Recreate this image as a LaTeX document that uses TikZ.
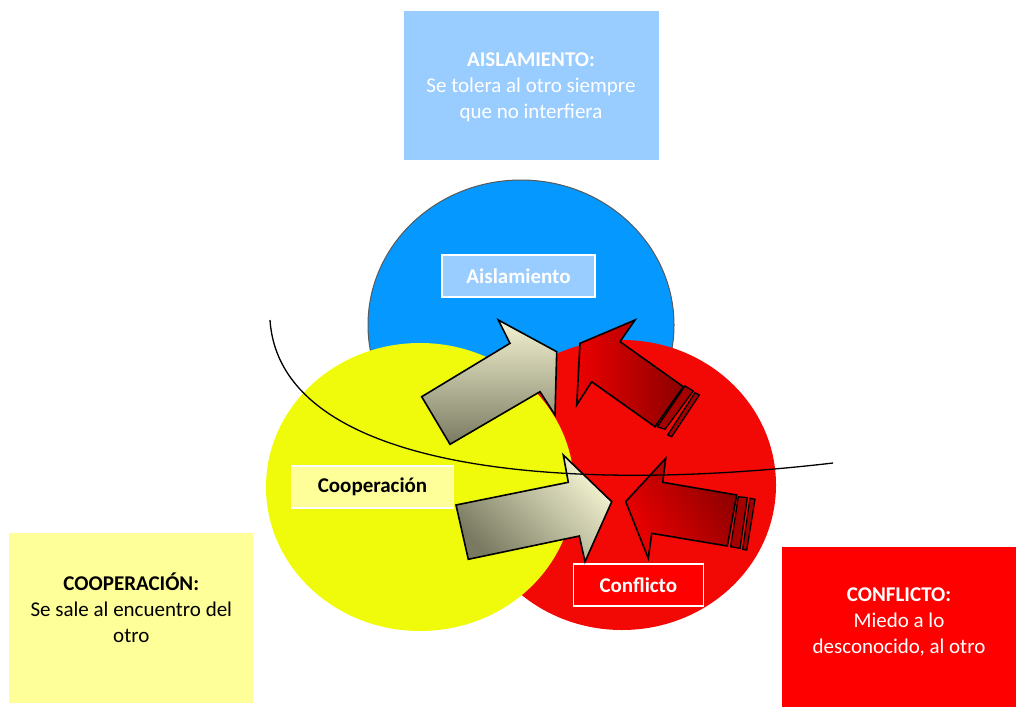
\documentclass[tikz,border=0pt]{standalone}
\usepackage{fontspec}
\setmainfont{Carlito}
\usepackage{xcolor}
\usetikzlibrary{shapes, positioning}

\definecolor{paleblue}{HTML}{99CCFF}
\definecolor{paleyellow}{HTML}{FFFF99}
\definecolor{purered}{HTML}{FF0000}
\definecolor{circblue}{RGB}{5,153,255}
\definecolor{circyellow}{RGB}{240,251,12}
\definecolor{circred}{RGB}{242,8,5}
\definecolor{khakilight}{RGB}{244,244,210}
\definecolor{khakidark}{RGB}{122,122,98}
\definecolor{redlight}{RGB}{236,0,0}
\definecolor{reddark}{RGB}{140,0,0}
\definecolor{stripered}{RGB}{165,0,0}

\begin{document}
\begin{tikzpicture}[x=1pt, y=-1pt,
        font=\fontsize{21}{26}\selectfont,
        infobox/.style={rectangle, inner sep=0pt},
        infotext/.style={align=center},
        tag/.style={rectangle, draw=white, line width=1.5pt, inner sep=0pt,
            minimum height=42pt, font=\fontsize{21}{26}\selectfont\bfseries},
        pusharrow/.style={draw=black, line width=1.6pt, line join=miter},
        stripe/.style={draw=black, line width=1.3pt, fill=stripered}]

        \useasboundingbox (0,0) rectangle (1016,707);

        % the three circles
        \filldraw[fill=circblue, draw=gray!70!black, line width=1pt] (521,325) ellipse [x radius=153pt, y radius=145pt];
        \fill[circred] (622,485) ellipse [x radius=154pt, y radius=145pt];
        \fill[circyellow] (420,487) ellipse [x radius=154pt, y radius=144pt];

        % tags inside the circles
        \node[tag, fill=paleblue, text=white, minimum width=153pt] (isoTag) at (518.5,276) {Aislamiento};
        \node[tag, fill=paleyellow, text=black, minimum width=162pt] (coopTag) at (372.5,487) {Cooperación};
        \node[tag, fill=purered, text=white, minimum width=130pt] (confTag) at (638.3,585) {Conflicto};

        % khaki arrows
        \draw[pusharrow, top color=khakilight, bottom color=khakidark]
            (421.7,396.7) -- (510,343.3) -- (498.3,320) -- (556.7,351.7)
            -- (555,415) -- (540,391.7) -- (450,444.3) -- cycle;
        \draw[pusharrow, top color=khakilight, bottom color=khakidark, shading angle=-45]
            (456,505) -- (568.3,482.3) -- (563.3,455) -- (611.7,501.7)
            -- (585,561.7) -- (579.3,536) -- (468.3,559.3) -- cycle;

        % red arrows
        \draw[pusharrow, top color=redlight, bottom color=reddark, shading angle=90]
            (580,343.3) -- (635,320) -- (620,341.7) -- (683.3,386.7)
            -- (655,426.7) -- (591.7,381.7) -- (576.7,405) -- cycle;
        \draw[stripe] (685,386) -- (693.3,391) -- (665,429.3) -- (657.3,426.7) -- cycle
            (695,392.7) -- (699.3,395) -- (671.7,436.7) -- (667.7,435) -- cycle;
        \draw[pusharrow, top color=redlight, bottom color=reddark, shading angle=120]
            (625.7,501.7) -- (665.7,458.3) -- (662.7,482.3) -- (736.7,495)
            -- (727.3,546) -- (651.7,533.3) -- (648.3,558.3) -- cycle;
        \draw[stripe] (738.3,496.7) -- (747.3,497.7) -- (740,548.3) -- (730.7,546.7) -- cycle
            (750,498.3) -- (755,499.3) -- (746.7,550) -- (742.7,549.3) -- cycle;

        % the boundary line
        \draw[line width=1.3pt] (270,320) .. controls (280,470) and (560,495) .. (833,463);

        % explanation boxes
        \node[infobox, fill=paleblue, minimum width=255pt, minimum height=149pt] (isoBox) at (531,85.5) {};
        \node[infotext, text=white] (isoText) at (531,87) {\textbf{AISLAMIENTO:}\\Se tolera al otro siempre\\que no interfiera};
        \node[infobox, fill=paleyellow, minimum width=244pt, minimum height=170pt] (coopBox) at (131.3,617.7) {};
        \node[infotext, text=black] (coopText) at (131.3,608) {\textbf{COOPERACIÓN:}\\Se sale al encuentro del\\otro};
        \node[infobox, fill=purered, minimum width=235pt, minimum height=160pt] (confBox) at (899,627.2) {};
        \node[infotext, text=white] (confText) at (899,622) {\textbf{CONFLICTO:}\\Miedo a lo\\desconocido, al otro};
    \end{tikzpicture}
\end{document}
